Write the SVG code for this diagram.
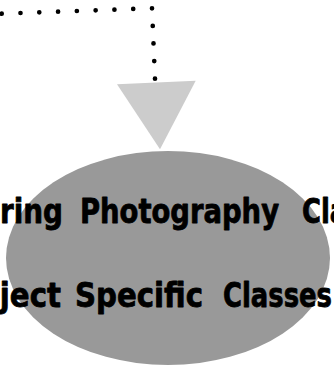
<svg xmlns="http://www.w3.org/2000/svg" width="334" height="367" viewBox="0 0 334 367">
  <style>
    .dots { fill: none; stroke: #000; stroke-width: 4.7; stroke-linecap: round; }
    .head { fill: #cccccc; stroke: none; }
    .shape { fill: #999999; stroke: none; }
    .label { font-family: "DejaVu Sans", "Liberation Sans", sans-serif; font-weight: bold; font-size: 33px; fill: #000; stroke: #000; stroke-width: 0.8; stroke-linejoin: round; }
  </style>
  <rect width="334" height="367" fill="#ffffff"/>
  <g id="node-classes">
    <ellipse class="shape" cx="168" cy="258" rx="162" ry="107"/>
    <text class="label">
      <tspan x="-65" y="223" textLength="128" lengthAdjust="spacingAndGlyphs">Offering</tspan>
      <tspan x="80" y="223" textLength="199" lengthAdjust="spacingAndGlyphs">Photography</tspan>
      <tspan x="302" y="223" textLength="109" lengthAdjust="spacingAndGlyphs">Classes</tspan>
    </text>
    <text class="label">
      <tspan x="-63" y="307" textLength="124" lengthAdjust="spacingAndGlyphs">Subject</tspan>
      <tspan x="75" y="307" textLength="128" lengthAdjust="spacingAndGlyphs">Specific</tspan>
      <tspan x="223" y="307" textLength="109" lengthAdjust="spacingAndGlyphs">Classes</tspan>
    </text>
  </g>
  <g id="connectors">
    <path class="dots" d="M1.7,13.7 L152,8.3" stroke-dasharray="0 18.8"/>
    <path class="dots" d="M152,8.3 L155,78.7" stroke-dasharray="0 17.6"/>
    <polygon class="head" points="117,84.3 195.7,80.7 160,149.3"/>
  </g>
</svg>
